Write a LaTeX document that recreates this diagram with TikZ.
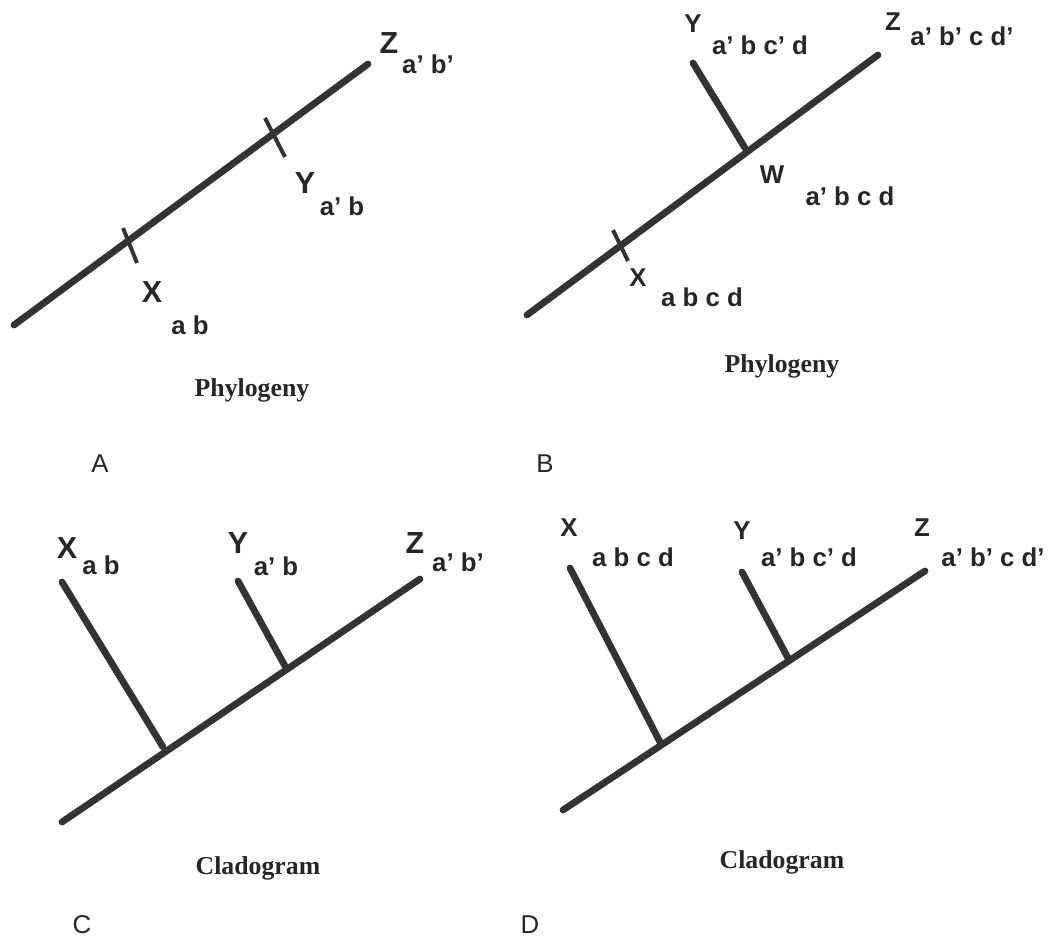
\documentclass[tikz,border=0pt]{standalone}
\usepackage{fontspec}
\setmainfont{Liberation Sans}
\newfontfamily\serifbold{Liberation Serif}
\begin{document}
\begin{tikzpicture}[x=0.03cm,y=-0.03cm,
  branch/.style={line width=5.8pt,draw=black!80,line cap=round},
  tickln/.style={line width=3.4pt,draw=black!80},
  biglab/.style={font=\fontsize{26}{26}\selectfont\bfseries,text=black!85,inner sep=0pt},
  midlab/.style={font=\fontsize{22}{22}\selectfont\bfseries,text=black!85,inner sep=0pt},
  sublab/.style={font=\fontsize{22}{22}\selectfont\bfseries,text=black!85,inner sep=0pt},
  capt/.style={font=\serifbold\bfseries\fontsize{22}{22}\selectfont,text=black!85,inner sep=0pt},
  panel/.style={font=\fontsize{22}{22}\selectfont,text=black!85,inner sep=0pt}]
\useasboundingbox (0,0) rectangle (1050,940);

% ---------- Panel A ----------
\coordinate (a0) at (14,325);
\coordinate (a1) at (368,64);
\draw[branch] (a0) -- (a1);
\coordinate (aX1) at (123,228); \coordinate (aX2) at (137,263);
\draw[tickln] (aX1) -- (aX2);
\coordinate (aY1) at (265,118); \coordinate (aY2) at (285,157);
\draw[tickln] (aY1) -- (aY2);
\node[biglab] (aZ) at (389,43) {Z};
\node[sublab] (aZs) at (428,64) {a' b'};
\node[biglab] (aY) at (305,183) {Y};
\node[sublab] (aYs) at (342,206) {a' b};
\node[biglab] (aX) at (152,292) {X};
\node[sublab] (aXs) at (190,325) {a b};
\node[capt] (aT) at (252,390) {Phylogeny};
\node[panel] (aL) at (100,464) {A};

% ---------- Panel B ----------
\coordinate (b0) at (527,315);
\coordinate (b1) at (878,55);
\draw[branch] (b0) -- (b1);
\coordinate (bW) at (745,148);
\coordinate (bYt) at (693,63);
\draw[branch] (bYt) -- (bW);
\coordinate (bX1) at (613,230); \coordinate (bX2) at (628,261);
\draw[tickln] (bX1) -- (bX2);
\node[midlab] (bY) at (693,24) {Y};
\node[sublab] (bYs) at (760,45) {a' b c' d};
\node[midlab] (bZ) at (893,22) {Z};
\node[sublab] (bZs) at (962,36) {a' b' c d'};
\node[midlab] (bWl) at (772,175) {W};
\node[sublab] (bWs) at (850,196) {a' b c d};
\node[midlab] (bX) at (638,278) {X};
\node[sublab] (bXs) at (702,297) {a b c d};
\node[capt] (bT) at (782,366) {Phylogeny};
\node[panel] (bL) at (545,464) {B};

% ---------- Panel C ----------
\coordinate (c0) at (62,822);
\coordinate (c1) at (420,579);
\draw[branch] (c0) -- (c1);
\coordinate (cXt) at (62,582); \coordinate (cXb) at (163,747);
\draw[branch] (cXt) -- (cXb);
\coordinate (cYt) at (238,581); \coordinate (cYb) at (285,666);
\draw[branch] (cYt) -- (cYb);
\node[biglab] (cX) at (67,548) {X};
\node[sublab] (cXs) at (101,565) {a b};
\node[biglab] (cY) at (238,543) {Y};
\node[sublab] (cYs) at (276,566) {a' b};
\node[biglab] (cZ) at (415,543) {Z};
\node[sublab] (cZs) at (458,562) {a' b'};
\node[capt] (cT) at (258,868) {Cladogram};
\node[panel] (cL) at (82,925) {C};

% ---------- Panel D ----------
\coordinate (d0) at (563,810);
\coordinate (d1) at (925,571);
\draw[branch] (d0) -- (d1);
\coordinate (dXt) at (570,568); \coordinate (dXb) at (660,742);
\draw[branch] (dXt) -- (dXb);
\coordinate (dYt) at (742,572); \coordinate (dYb) at (788,658);
\draw[branch] (dYt) -- (dYb);
\node[midlab] (dX) at (569,528) {X};
\node[sublab] (dXs) at (633,557) {a b c d};
\node[midlab] (dY) at (742,531) {Y};
\node[sublab] (dYs) at (809,557) {a' b c' d};
\node[midlab] (dZ) at (922,528) {Z};
\node[sublab] (dZs) at (993,557) {a' b' c d'};
\node[capt] (dT) at (782,862) {Cladogram};
\node[panel] (dL) at (530,925) {D};
\end{tikzpicture}
\end{document}
